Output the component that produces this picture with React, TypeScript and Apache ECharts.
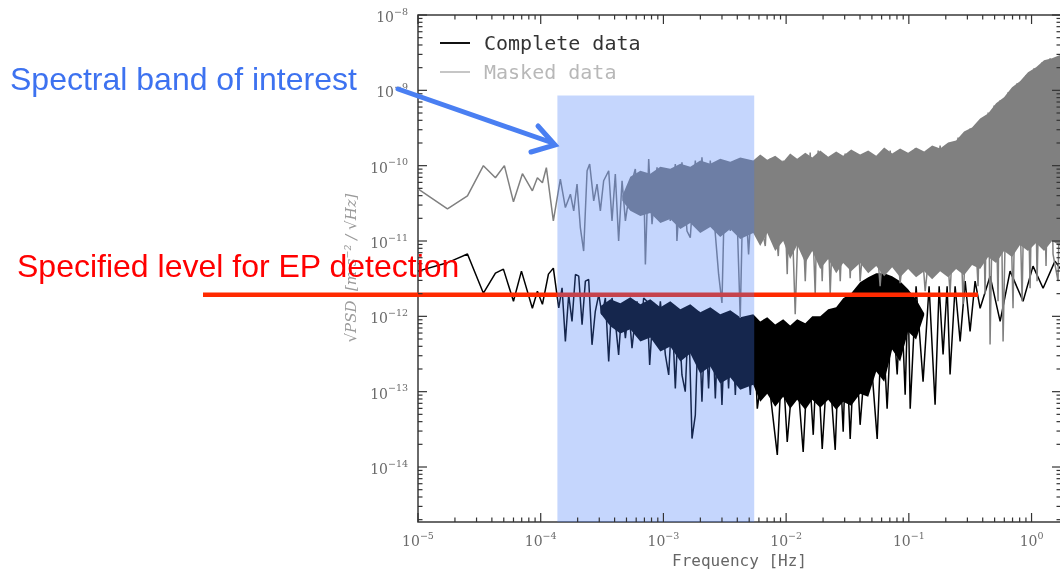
import React, { useEffect, useRef } from 'react';
import * as echarts from 'echarts';

// Axis extents, in decades (log10 of Hz and of the PSD amplitude)
const xExtent = [-5, 0.24];
const yExtent = [-14.73, -8];
const xTickExps = [-5, -4, -3, -2, -1, 0];
const yTickExps = [-14, -13, -12, -11, -10, -9, -8];

const seriesNames = ['Complete data', 'Masked data'];

// Complete data: frequency (log10 Hz) and sqrt(PSD) (log10)
const completeFreqExp = [
  -5.0, -4.768, -4.597, -4.467, -4.369, -4.304, -4.222, -4.157, -4.068, -4.027, -3.986, -3.937, -3.897,
  -3.853, -3.826, -3.799, -3.772, -3.745, -3.717, -3.690, -3.663, -3.636, -3.609,
  -3.582, -3.555, -3.527, -3.500, -3.473, -3.446, -3.419, -3.392, -3.365, -3.337,
  -3.310, -3.283, -3.256, -3.215, -3.188, -3.161, -3.134, -3.112, -3.080, -3.052,
  -3.025, -2.984, -2.957, -2.930, -2.903, -2.876, -2.849, -2.822, -2.795, -2.767,
  -2.740, -2.713, -2.686, -2.659, -2.632, -2.604, -2.577, -2.550, -2.523, -2.496,
  -2.469, -2.442, -2.414, -2.387, -2.360, -2.333, -2.292, -2.265,
  -2.235, -2.170, -2.072, -2.032, -1.991, -1.926, -1.861, -1.820, -1.779, -1.747,
  -1.706, -1.657, -1.600, -1.568, -1.535, -1.511, -1.478, -1.437, -1.397, -1.331,
  -1.258, -1.217, -1.177, -1.136, -1.095, -1.063, -1.030, -1.006, -0.989, -0.941,
  -0.884, -0.835, -0.786, -0.753, -0.721, -0.688, -0.664, -0.623, -0.582, -0.541,
  -0.501, -0.460, -0.419, -0.338, -0.256, -0.175, -0.069, 0.012, 0.094, 0.191, 0.248,
];
const completePsdExp = [
  -11.40, -11.293, -11.173, -11.693, -11.427, -11.373, -11.80, -11.40, -11.893, -11.667, -11.84, -11.44, -11.36,
  -11.889, -11.622, -12.333, -11.711, -12.067, -11.444, -11.467, -12.111, -11.533, -11.511,
  -12.378, -11.933, -11.711, -11.978, -11.756, -12.6, -11.756, -12.067, -12.511, -11.844,
  -12.289, -11.889, -12.422, -11.8, -12.244, -11.756, -11.8, -12.644, -11.822, -12.289,
  -11.8, -12.511, -12.778, -11.933, -12.956, -11.978, -12.778, -13.0, -11.956, -13.622,
  -13.311, -11.933, -13.133, -11.978, -12.956, -11.933, -13.089, -11.978, -13.178, -12.022,
  -12.956, -12.022, -13.044, -12.022, -12.911, -12.067, -13.044, -12.111,
  -13.227, -12.45, -13.84, -12.5, -13.667, -12.42, -13.80, -12.48, -13.573, -12.4,
  -13.76, -12.46, -13.773, -12.38, -13.533, -12.333, -13.627, -12.2, -13.44, -12.067,
  -13.627, -11.933, -13.227, -11.80, -12.773, -11.667, -13.04, -11.667, -13.227, -11.60,
  -12.867, -11.60, -13.173, -11.60, -12.507, -11.60, -12.773, -11.60, -12.333, -11.533,
  -12.2, -11.533, -11.893, -11.467, -12.067, -11.40, -11.80, -11.333, -11.627, -11.267, -11.40,
];

// Masked data
const maskedFreqExp = [
  -5.0, -4.760, -4.597, -4.467, -4.369, -4.296, -4.222, -4.149, -4.068, -4.027, -3.986, -3.954, -3.897,
  -3.840, -3.799, -3.758, -3.731, -3.704, -3.677, -3.650, -3.622, -3.601, -3.568,
  -3.541, -3.514, -3.487, -3.446, -3.419, -3.392, -3.365, -3.337, -3.310, -3.270,
  -3.229, -3.202, -3.161, -3.147, -3.120, -3.093, -3.052, -3.025, -2.984, -2.944,
  -2.903, -2.890, -2.849, -2.808, -2.781, -2.740, -2.713, -2.686, -2.645, -2.618,
  -2.577, -2.550, -2.523, -2.496, -2.455, -2.414, -2.374, -2.347, -2.306, -2.265,
  -2.235, -2.170, -2.129, -2.064, -2.024, -1.991, -1.967, -1.926, -1.885, -1.844,
  -1.804, -1.763, -1.739, -1.706, -1.673, -1.641, -1.600, -1.559, -1.519, -1.478,
  -1.437, -1.397, -1.315, -1.234, -1.152, -1.071, -0.949, -0.867, -0.745, -0.664,
  -0.599, -0.558, -0.501, -0.436, -0.403, -0.379, -0.354, -0.338, -0.305, -0.273,
  -0.256, -0.232, -0.191, -0.151, -0.118, -0.077, -0.045, -0.012, 0.020, 0.045,
  0.086, 0.118, 0.151, 0.175, 0.216, 0.248,
];
const maskedPsdExp = [
  -10.307, -10.573, -10.40, -10.0, -10.16, -10.0, -10.48, -10.107, -10.333, -10.16, -10.227, -10.027, -10.733,
  -10.178, -10.556, -10.378, -10.6, -10.244, -10.822, -11.133, -10.067, -9.978, -10.467,
  -10.244, -10.6, -10.2, -10.067, -10.733, -10.111, -11.0, -10.2, -10.733, -10.289,
  -10.044, -10.644, -10.111, -11.311, -9.911, -10.778, -10.022, -10.6, -10.067, -10.733,
  -9.978, -11.0, -9.956, -10.867, -10.956, -9.933, -10.733, -9.889, -10.822, -9.933,
  -10.911, -11.444, -11.822, -9.978, -10.867, -9.933, -12.022, -9.978, -11.178, -9.978,
  -10.467, -11.067, -9.907, -11.2, -9.933, -11.44, -9.88, -11.973, -9.893, -11.533,
  -9.827, -11.707, -9.80, -11.533, -9.867, -11.707, -9.84, -11.533, -9.84, -11.493,
  -9.827, -11.533, -9.867, -11.60, -9.80, -11.56, -9.773, -11.667, -9.733, -11.693,
  -9.627, -11.84, -9.507, -11.60, -9.373, -11.707, -9.293, -12.373, -9.20, -11.80,
  -9.133, -12.333, -9.027, -11.893, -8.907, -11.80, -8.80, -11.627, -8.707, -11.533,
  -8.627, -11.333, -8.573, -11.173, -11.533, -8.52,
];

// Dense cores of the spectra (upper / lower edges of the solid regions)
const completeCoreFreqExp = [
  -3.514, -3.432, -3.351, -3.270, -3.188, -3.107, -3.025, -2.944, -2.862, -2.781,
  -2.700, -2.618, -2.537, -2.455, -2.374, -2.268, -2.211, -2.154, -2.089, -2.024,
  -1.967, -1.910, -1.844, -1.787, -1.722, -1.657, -1.592, -1.535, -1.470, -1.397,
  -1.331, -1.266, -1.201, -1.136, -1.071, -1.006, -0.941, -0.875,
];
const completeCoreUpperExp = [
  -11.867, -11.773, -11.827, -11.747, -11.84, -11.773, -11.88, -11.80, -11.907, -11.84,
  -11.947, -11.88, -11.973, -11.92, -12.013, -11.973, -12.067, -12.013, -12.107, -12.04,
  -12.12, -12.04, -12.093, -12.0, -12.0, -11.907, -11.88, -11.76, -11.693, -11.547,
  -11.48, -11.427, -11.427, -11.467, -11.533, -11.64, -11.773, -11.96,
];
const completeCoreLowerExp = [
  -11.96, -12.133, -12.227, -12.173, -12.333, -12.28, -12.467, -12.40, -12.60, -12.493,
  -12.76, -12.667, -12.893, -12.813, -12.973, -12.907, -13.133, -13.027, -13.20, -13.067,
  -13.227, -13.107, -13.24, -13.107, -13.213, -13.107, -13.24, -13.133, -13.187, -13.027,
  -13.067, -12.733, -12.867, -12.44, -12.60, -12.2, -12.307, -11.987,
];

const maskedCoreFreqExp = [
  -3.335, -3.270, -3.188, -3.107, -3.025, -2.944, -2.862, -2.781, -2.700, -2.618,
  -2.537, -2.455, -2.374, -2.268, -2.211, -2.154, -2.089, -2.024, -1.967, -1.910,
  -1.844, -1.787, -1.722, -1.657, -1.592, -1.535, -1.470, -1.397, -1.331, -1.266,
  -1.201, -1.136, -1.071, -1.006, -0.941, -0.875, -0.810, -0.745, -0.680, -0.615,
  -0.550, -0.485, -0.419, -0.354, -0.289, -0.224, -0.159, -0.094, -0.029, 0.037,
  0.102, 0.167, 0.248,
];
const maskedCoreUpperExp = [
  -10.40, -10.147, -10.067, -10.107, -10.013, -10.04, -9.973, -10.013, -9.933, -9.973,
  -9.907, -9.947, -9.893, -9.933, -9.853, -9.92, -9.867, -9.947, -9.84, -9.907,
  -9.827, -9.893, -9.80, -9.88, -9.813, -9.867, -9.787, -9.853, -9.80, -9.867,
  -9.76, -9.84, -9.773, -9.827, -9.76, -9.813, -9.733, -9.773, -9.693, -9.667,
  -9.547, -9.493, -9.373, -9.307, -9.173, -9.093, -8.96, -8.88, -8.76, -8.693,
  -8.60, -8.573, -8.52,
];
const maskedCoreLowerExp = [
  -10.467, -10.60, -10.667, -10.627, -10.76, -10.707, -10.84, -10.76, -10.893, -10.813,
  -10.947, -10.84, -10.973, -10.893, -11.067, -10.893, -11.133, -11.0, -11.24, -11.053,
  -11.293, -11.133, -11.373, -11.24, -11.427, -11.293, -11.40, -11.293, -11.427, -11.333,
  -11.467, -11.347, -11.48, -11.373, -11.48, -11.40, -11.507, -11.40, -11.48, -11.373,
  -11.453, -11.32, -11.373, -11.213, -11.293, -11.133, -11.213, -11.053, -11.133, -11.027,
  -11.133, -11.0, -11.08,
];

// Annotations
const bandFreqExp = [-3.864, -2.26];
const bandTopExp = -9.07;
const specifiedLevelExp = -11.714;

const zip = (xs: number[], ys: number[]) => xs.map((x, i) => [x, ys[i]]);

function buildTicks() {
  const t: number[][] = [];
  xTickExps.forEach((v) => t.push([v, 9, 0]));
  for (let n = Math.floor(xExtent[0]); n < xExtent[1]; n++) {
    for (let k = 2; k <= 9; k++) {
      const v = n + Math.log10(k);
      if (v > xExtent[0] && v < xExtent[1]) t.push([v, 4.5, 0]);
    }
  }
  yTickExps.forEach((v) => t.push([v, 9, 1]));
  for (let n = Math.floor(yExtent[0]); n < yExtent[1]; n++) {
    for (let k = 2; k <= 9; k++) {
      const v = n + Math.log10(k);
      if (v > yExtent[0] && v < yExtent[1]) t.push([v, 4.5, 1]);
    }
  }
  return t;
}

const expLabel = (v: number) => `{b|10}{s|${String(Math.round(v)).replace('-', '\u2212')}}`;
const labelRich = {
  b: { fontFamily: 'DejaVu Serif', fontSize: 14, color: '#6a6a6a', lineHeight: 18, verticalAlign: 'bottom' },
  s: { fontFamily: 'DejaVu Serif', fontSize: 9.5, color: '#6a6a6a', lineHeight: 10, verticalAlign: 'top' },
};

function coreSeries(name: string, fx: number[], up: number[], lo: number[], color: string, z: number) {
  return {
    type: 'custom',
    name,
    z,
    silent: true,
    coordinateSystem: 'cartesian2d',
    data: [[fx[0], up[0]]],
    renderItem: (_p: any, api: any) => {
      const pts: number[][] = [];
      for (let i = 0; i < fx.length; i++) pts.push(api.coord([fx[i], up[i]]));
      for (let i = fx.length - 1; i >= 0; i--) pts.push(api.coord([fx[i], lo[i]]));
      return { type: 'polygon', shape: { points: pts }, style: { fill: color } };
    },
  };
}

export default function App() {
  const ref = useRef<HTMLDivElement>(null);
  useEffect(() => {
    if (!ref.current) return;
    const chart = echarts.init(ref.current, undefined, { renderer: 'svg' });
    chart.setOption({
      animation: false,
      grid: {
        left: 418, top: 15, width: 643, height: 507,
        show: true, borderColor: '#3a3a3a', borderWidth: 1.5, backgroundColor: 'transparent',
        outerBoundsMode: 'none',
      },
      legend: {
        left: 435, top: 28, orient: 'vertical', itemGap: 9, itemWidth: 30, itemHeight: 2,
        icon: 'rect', selectedMode: false,
        textStyle: { fontFamily: 'DejaVu Sans Mono', fontSize: 20, padding: [0, 0, 0, 9] },
        data: [
          { name: seriesNames[0], itemStyle: { color: '#111111' }, textStyle: { color: '#333333' } },
          { name: seriesNames[1], itemStyle: { color: '#c6c6c6' }, textStyle: { color: '#b8b8b8' } },
        ],
      },
      xAxis: {
        type: 'value', min: xExtent[0], max: xExtent[1],
        axisLine: { show: false }, axisTick: { show: false }, splitLine: { show: false },
        axisLabel: { customValues: xTickExps, formatter: expLabel, rich: labelRich, margin: 8 },
        name: 'Frequency [Hz]', nameLocation: 'middle', nameGap: 30,
        nameTextStyle: { fontFamily: 'DejaVu Sans Mono', fontSize: 16, color: '#666666' },
      },
      yAxis: {
        type: 'value', min: yExtent[0], max: yExtent[1],
        axisLine: { show: false }, axisTick: { show: false }, splitLine: { show: false },
        axisLabel: { customValues: yTickExps, formatter: expLabel, rich: labelRich, margin: 10 },
      },
      series: [
        {
          type: 'line', name: seriesNames[0], data: zip(completeFreqExp, completePsdExp),
          symbol: 'none', silent: true, z: 2,
          lineStyle: { color: '#000000', width: 1.5 }, itemStyle: { color: '#000000' },
        },
        coreSeries('Complete data core', completeCoreFreqExp, completeCoreUpperExp, completeCoreLowerExp, '#000000', 2),
        {
          type: 'line', name: seriesNames[1], data: zip(maskedFreqExp, maskedPsdExp),
          symbol: 'none', silent: true, z: 3,
          lineStyle: { color: '#808080', width: 1.5 }, itemStyle: { color: '#808080' },
        },
        coreSeries('Masked data core', maskedCoreFreqExp, maskedCoreUpperExp, maskedCoreLowerExp, '#808080', 3),
        {
          type: 'custom', name: 'band', z: 10, silent: true, coordinateSystem: 'cartesian2d',
          data: [[bandFreqExp[0], bandTopExp]],
          renderItem: (_p: any, api: any) => {
            const a = api.coord([bandFreqExp[0], bandTopExp]);
            const b = api.coord([bandFreqExp[1], yExtent[0]]);
            return { type: 'rect', shape: { x: a[0], y: a[1], width: b[0] - a[0], height: b[1] - a[1] }, style: { fill: 'rgba(68,123,248,0.31)' } };
          },
        },
        {
          type: 'custom', name: 'ticks', z: 12, silent: true, coordinateSystem: 'cartesian2d',
          data: buildTicks(),
          renderItem: (params: any, api: any) => {
            const cs = params.coordSys;
            const v = api.value(0), len = api.value(1), dim = api.value(2);
            const st = { stroke: '#333333', lineWidth: 1.2 };
            if (dim === 0) {
              const x = api.coord([v, yExtent[0]])[0];
              return { type: 'group', children: [
                { type: 'line', shape: { x1: x, y1: cs.y + cs.height, x2: x, y2: cs.y + cs.height - len }, style: st },
                { type: 'line', shape: { x1: x, y1: cs.y, x2: x, y2: cs.y + len }, style: st },
              ] };
            }
            const y = api.coord([xExtent[0], v])[1];
            return { type: 'group', children: [
              { type: 'line', shape: { x1: cs.x, y1: y, x2: cs.x + len, y2: y }, style: st },
              { type: 'line', shape: { x1: cs.x + cs.width, y1: y, x2: cs.x + cs.width - len, y2: y }, style: st },
            ] };
          },
        },
      ],
    });

    const levelY = chart.convertToPixel({ xAxisIndex: 0, yAxisIndex: 0 }, [xExtent[0], specifiedLevelExp])[1];
    chart.setOption({
      graphic: [
        { id: 'ytitle', type: 'text', x: 351, y: 268, rotation: Math.PI / 2, z: 1,
          style: { text: '\u221APSD  [m s\u207B\u00B2 / \u221AHz]', fontFamily: 'DejaVu Serif', fontStyle: 'italic', fontSize: 15, fill: '#9a9a9a', align: 'center', verticalAlign: 'middle' } },
        { id: 'level', type: 'line', z: 6, shape: { x1: 203, y1: levelY, x2: 978, y2: levelY }, style: { stroke: '#ff2a00', lineWidth: 4.5 } },
        { id: 'arrow', type: 'line', z: 20, shape: { x1: 398, y1: 89, x2: 550, y2: 142 }, style: { stroke: '#4a7ff2', lineWidth: 5, lineCap: 'round' } },
        { id: 'arrowHead', type: 'polyline', z: 20, shape: { points: [[538, 126], [555, 145], [531, 152]] }, style: { stroke: '#4a7ff2', lineWidth: 5, lineCap: 'round', lineJoin: 'miter' } },
        { id: 'bandText', type: 'text', x: 10, y: 79, z: 20,
          style: { text: 'Spectral band of interest', fontFamily: '"Liberation Sans", Arial, sans-serif', fontSize: 32, fill: '#3d72f0', verticalAlign: 'middle' } },
        { id: 'levelText', type: 'text', x: 17, y: 266, z: 20,
          style: { text: 'Specified level for EP detection', fontFamily: '"Liberation Sans", Arial, sans-serif', fontSize: 32, fill: '#ff0000', verticalAlign: 'middle' } },
      ],
    });
    return () => chart.dispose();
  }, []);
  return <div ref={ref} style={{ position: 'fixed', left: 0, top: 0, width: 1060, height: 574 }} />;
}
